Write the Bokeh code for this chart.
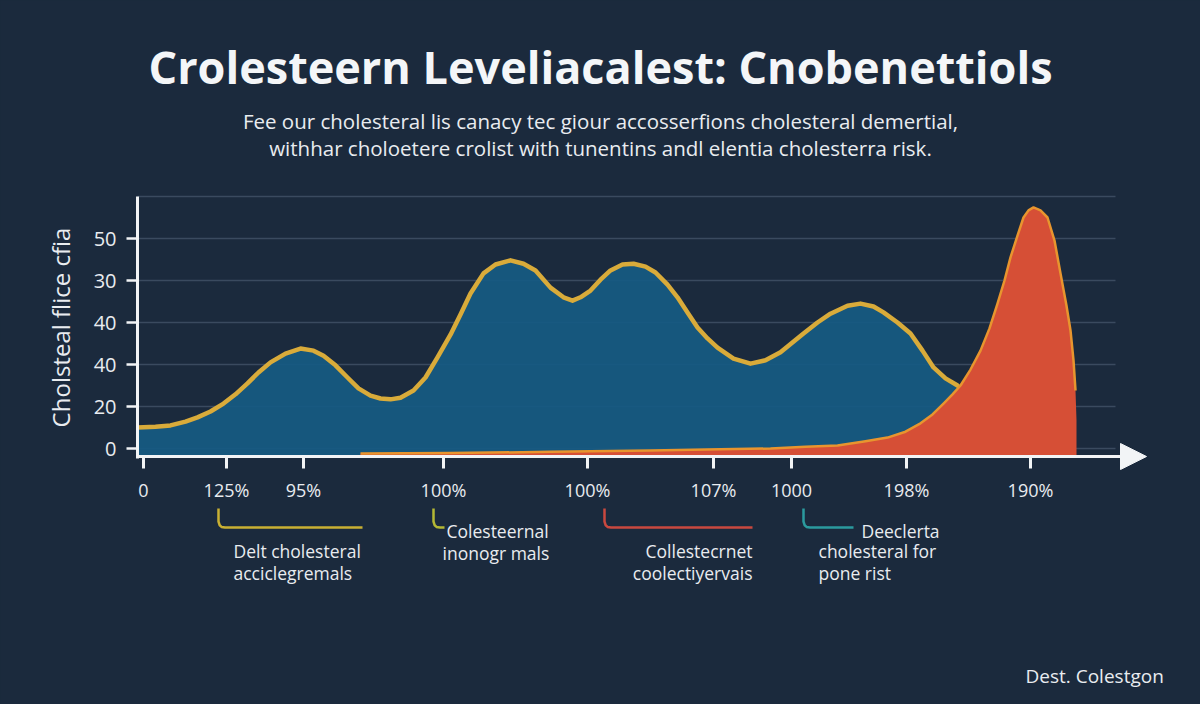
from bokeh.plotting import figure
from bokeh.models import Range1d, FixedTicker, Label, Arrow, NormalHead
from bokeh.embed import file_html
from bokeh.resources import INLINE

# ---------------- data ----------------
blue_x = [0.0, 1.8, 3.3, 4.8, 6.0, 7.3, 8.6, 9.8, 11.0, 12.1, 13.3, 14.8, 16.3, 17.6, 18.6,
          19.8, 21.0, 22.1, 23.3, 24.3, 25.3, 26.3, 27.6, 28.8, 30.0, 31.3, 32.3, 33.3, 34.6,
          35.8, 37.3, 38.6, 39.8, 41.3, 42.6, 43.5, 44.3, 45.3, 46.3, 47.3, 48.5, 49.6, 50.8,
          51.8, 53.0, 54.0, 55.0, 56.0, 57.0, 58.0, 59.6, 61.3, 62.8, 64.3, 66.6, 68.0, 69.3,
          71.0, 72.3, 73.6, 74.6, 76.0, 77.3, 78.5, 79.6, 80.8, 82.0, 83.3, 84.8, 85.8]
blue_y = [5.0, 5.2, 5.5, 6.4, 7.4, 8.8, 10.7, 12.9, 15.5, 18.1, 20.5, 22.6, 23.8, 23.3, 22.1,
          19.8, 16.9, 14.3, 12.6, 11.9, 11.7, 12.1, 13.8, 16.9, 21.7, 27.1, 31.9, 36.9, 41.7,
          43.8, 44.8, 44.0, 42.4, 38.3, 36.0, 35.2, 36.0, 37.6, 40.2, 42.4, 43.8, 44.0, 43.3,
          41.9, 39.0, 36.0, 32.4, 28.8, 26.2, 24.0, 21.4, 20.2, 21.0, 22.9, 27.4, 30.0, 32.1,
          34.0, 34.5, 33.8, 32.4, 30.0, 27.4, 23.3, 19.3, 16.7, 15.0, 11.9, 5.5, 0.0]

red_x = [22.3, 31.3, 41.3, 51.3, 58.3, 63.3, 66.8, 70.0, 72.8, 75.0, 76.8, 78.3, 79.5, 80.6,
         81.5, 82.3, 83.3, 84.3, 85.2, 86.0, 86.7, 87.3, 88.0, 88.6, 89.1, 89.6, 90.3, 91.0,
         91.7, 92.3, 92.9, 93.3, 93.6, 93.8, 93.9, 93.9]
red_y = [-1.2, -1.1, -0.8, -0.5, -0.2, 0.0, 0.4, 0.7, 1.7, 2.6, 4.0, 6.0, 8.1, 10.7,
         12.9, 15.0, 18.8, 23.3, 28.6, 34.5, 40.0, 45.5, 50.7, 55.0, 56.7, 57.4, 56.7, 55.0,
         49.5, 41.7, 34.0, 28.1, 21.0, 13.8, 6.7, -1.2]

x_tick_pos = [0.6, 8.9, 16.6, 30.6, 45.0, 57.6, 65.4, 76.9, 89.3]
x_tick_labels = ["0", "125%", "95%", "100%", "100%", "107%", "1000", "198%", "190%"]
y_tick_pos = [0, 10, 20, 30, 40, 50]
y_tick_labels = ["0", "20", "40", "40", "30", "50"]
y_grid_pos = [0, 10, 20, 30, 40, 50, 60]

title_text = "Crolesteern Leveliacalest: Cnobenettiols"
subtitle_lines = ["Fee our cholesteral lis canacy tec giour accosserfions cholesteral demertial,",
                  "withhar choloetere crolist with tunentins andl elentia cholesterra risk."]
y_label_text = "Cholsteal flice cfia"
footer_text = "Dest. Colestgon"

note_lines = [["Delt cholesteral", "acciclegremals"],
              ["Colesteernal", "inonogr mals"],
              ["Collestecrnet", "coolectiyervais"],
              ["Deeclerta", "cholesteral for", "pone rist"]]

# ---------------- style ----------------
BG = "#1b2a3d"
TXT = "#e9ecf0"
WHITE = "#f2f4f6"
BLUE = "#155a82"
GOLD = "#d9ab3a"
RED = "#d64f36"
ORANGE = "#e8952e"
GRID = "#3a4a5f"
NOTE_COLORS = ["#c9b033", "#b4b835", "#c9483f", "#2b9a9e"]
FONT = "Open Sans"
W, H = 1200, 704

# page-pixel -> data helpers for decorations placed around the chart
def fx(X):
    return (X - 137) / 10.0

def fy(Y):
    return (448 - Y) / 4.2

AX_Y = fy(456)      # level of the x axis line
TOP = 60.0

p = figure(width=W, height=H, output_backend="svg", toolbar_location=None,
           x_range=Range1d(fx(0), fx(W)), y_range=Range1d(fy(H), fy(0)),
           min_border_left=0, min_border_right=0, min_border_top=0, min_border_bottom=0)
p.background_fill_color = BG
p.border_fill_color = BG
p.outline_line_color = None

# grid
p.xgrid.visible = False
p.ygrid.ticker = FixedTicker(ticks=y_grid_pos)
p.ygrid.grid_line_color = GRID
p.ygrid.grid_line_width = 1.5
p.ygrid.cross_bounds = (0, fx(1115))

# y axis
p.yaxis.fixed_location = 0
p.yaxis.bounds = (fy(458), TOP)
p.yaxis.ticker = FixedTicker(ticks=y_tick_pos)
p.yaxis.major_label_overrides = {float(k): v for k, v in zip(y_tick_pos, y_tick_labels)}
p.yaxis.axis_line_color = WHITE
p.yaxis.axis_line_width = 3
p.yaxis.major_tick_line_color = WHITE
p.yaxis.major_tick_line_width = 2.5
p.yaxis.major_tick_out = 11
p.yaxis.major_tick_in = 0
p.yaxis.minor_tick_line_color = None
p.yaxis.major_label_text_color = TXT
p.yaxis.major_label_text_font = FONT
p.yaxis.major_label_text_font_size = "20px"
p.yaxis.major_label_standoff = 10
p.yaxis.axis_label = y_label_text
p.yaxis.axis_label_text_color = TXT
p.yaxis.axis_label_text_font = FONT
p.yaxis.axis_label_text_font_size = "24px"
p.yaxis.axis_label_text_font_style = "normal"
p.yaxis.axis_label_standoff = 14

# x axis
p.xaxis.fixed_location = AX_Y
p.xaxis.bounds = (0, fx(1146))
p.xaxis.ticker = FixedTicker(ticks=x_tick_pos)
p.xaxis.major_label_overrides = {float(k): v for k, v in zip(x_tick_pos, x_tick_labels)}
p.xaxis.axis_line_color = None
p.xaxis.major_tick_line_color = WHITE
p.xaxis.major_tick_line_width = 3
p.xaxis.major_tick_out = 12
p.xaxis.major_tick_in = 0
p.xaxis.minor_tick_line_color = None
p.xaxis.major_label_text_color = TXT
p.xaxis.major_label_text_font = FONT
p.xaxis.major_label_text_font_size = "18px"
p.xaxis.major_label_standoff = 9

# areas
p.varea(x=blue_x, y1=AX_Y, y2=blue_y, fill_color=BLUE, fill_alpha=0.93)
p.line(x=blue_x, y=blue_y, line_color=GOLD, line_width=4.5, line_join="round")
p.varea(x=red_x, y1=AX_Y, y2=red_y, fill_color=RED)
p.line(x=red_x[:-2], y=red_y[:-2], line_color=ORANGE, line_width=2.5, line_join="round")

# x axis line with arrow head
p.add_layout(Arrow(x_start=0, y_start=AX_Y, x_end=fx(1146), y_end=AX_Y,
                   line_color=WHITE, line_width=3,
                   end=NormalHead(size=26, fill_color=WHITE, line_color=WHITE)))

# titles
p.add_layout(Label(x=fx(600), y=fy(66), text=title_text, text_align="center",
                   text_baseline="middle", text_font=FONT, text_font_style="bold",
                   text_font_size="45px", text_color="#f4f6f8"))
for line_txt, Y in zip(subtitle_lines, [120, 147]):
    p.add_layout(Label(x=fx(600), y=fy(Y), text=line_txt, text_align="center",
                       text_baseline="middle", text_font=FONT, text_font_size="20.5px",
                       text_color=TXT))
p.add_layout(Label(x=fx(1025), y=fy(675), text=footer_text, text_align="left",
                   text_baseline="middle", text_font=FONT, text_font_size="19px",
                   text_color=TXT))

# annotation brackets
bracket_geo = [(218, 362), (433, 444), (604, 752), (803, 853)]
for (x0, x1), col in zip(bracket_geo, NOTE_COLORS):
    pts = [(x0, 508), (x0, 521), (x0 + 1.2, 524.8), (x0 + 3, 526.4), (x0 + 6.5, 527), (x1, 527)]
    p.line(x=[fx(a) for a, b in pts], y=[fy(b) for a, b in pts], line_color=col,
           line_width=2.5, line_join="round")

note_pos = [[(233, 550, "left"), (233, 572, "left")],
            [(446, 530, "left"), (442, 552, "left")],
            [(752, 550, "right"), (752, 572, "right")],
            [(861, 530, "left"), (818, 550, "left"), (818, 572, "left")]]
for lines, poss in zip(note_lines, note_pos):
    for t, (X, Y, al) in zip(lines, poss):
        p.add_layout(Label(x=fx(X), y=fy(Y), text=t, text_align=al, text_baseline="middle",
                           text_font=FONT, text_font_size="17.5px", text_color=TXT))

html = file_html(p, INLINE)
html = html.replace("</head>", "<style>body{background:#1b2a3d;}</style></head>")
open("out.html", "w").write(html)
